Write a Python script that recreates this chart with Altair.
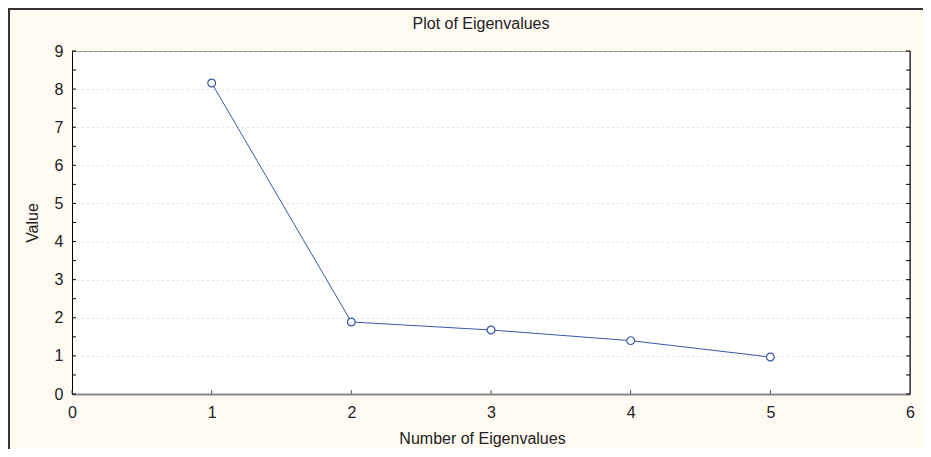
import altair as alt
import pandas as pd

# Data
eig_num = [1, 2, 3, 4, 5]
eig_val = [8.16, 1.89, 1.68, 1.40, 0.97]
y_ticks_minor = [i * 0.5 for i in range(0, 19)]
x_ticks = [0, 1, 2, 3, 4, 5, 6]
y_label_values = [0, 1, 2, 3, 4, 5, 6, 7, 8, 9]
title_text = ["Plot of Eigenvalues"]

FONT = "Liberation Sans"
W, H = 838, 343
BLUE = "#3b55a8"

df = pd.DataFrame({"n": eig_num, "v": eig_val})
yt = pd.DataFrame({"t": y_ticks_minor})
xt = pd.DataFrame({"t": x_ticks})

xscale = alt.Scale(domain=[0, 6], nice=False, zero=False)
yscale = alt.Scale(domain=[0, 9], nice=False, zero=False)

x_axis = alt.Axis(
    title="Number of Eigenvalues",
    values=x_ticks,
    format="d",
    grid=False,
    ticks=False,
    labelFlush=False,
    labelOverlap=False,
    domainColor="#888888",
    domainWidth=2,
    labelPadding=10,
    labelFontSize=16,
    labelColor="#222222",
    labelFont=FONT,
    titleFont=FONT,
    titleFontSize=16,
    titleFontWeight="normal",
    titleColor="#222222",
    titleX=410,
    titleY=44,
    titleBaseline="middle",
)
y_axis = alt.Axis(
    title="Value",
    values=y_label_values,
    format="d",
    grid=True,
    gridColor="#c4c4c4",
    gridDash=[1, 4],
    ticks=False,
    labelFlush=False,
    labelOverlap=False,
    domainColor="#000000",
    domainWidth=1,
    labelPadding=9,
    labelFontSize=16,
    labelColor="#222222",
    labelFont=FONT,
    titleFont=FONT,
    titleFontSize=16,
    titleFontWeight="normal",
    titleColor="#222222",
    titlePadding=14,
)

line = alt.Chart(df).mark_line(color=BLUE, strokeWidth=1).encode(
    x=alt.X("n:Q", scale=xscale, axis=x_axis),
    y=alt.Y("v:Q", scale=yscale, axis=y_axis),
)
pts = alt.Chart(df).mark_point(
    shape="circle", filled=False, fill="white", fillOpacity=1,
    color=BLUE, stroke=BLUE, strokeWidth=1.2, size=60, opacity=1
).encode(
    x=alt.X("n:Q", scale=xscale, axis=x_axis),
    y=alt.Y("v:Q", scale=yscale, axis=y_axis),
)

# right border (black) at x = 6
right_rule = alt.Chart(pd.DataFrame({"x": [6]})).mark_rule(
    color="#000000", strokeWidth=1
).encode(x=alt.X("x:Q", scale=xscale, axis=x_axis), y=alt.value(0), y2=alt.value(H))

# inward ticks on left and right axes
left_ticks = alt.Chart(yt).mark_rule(color="#000000", strokeWidth=1).encode(
    y=alt.Y("t:Q", scale=yscale, axis=y_axis), x=alt.value(0), x2=alt.value(4)
)
right_ticks = alt.Chart(yt).mark_rule(color="#000000", strokeWidth=1).encode(
    y=alt.Y("t:Q", scale=yscale, axis=y_axis), x=alt.value(W - 4), x2=alt.value(W)
)
bottom_ticks = alt.Chart(xt).mark_rule(color="#555555", strokeWidth=1).encode(
    x=alt.X("t:Q", scale=xscale, axis=x_axis), y=alt.value(H - 4), y2=alt.value(H)
)

# chart title as a text mark
title = alt.Chart(pd.DataFrame({"t": title_text})).mark_text(
    font=FONT, fontSize=16, color="#222222", align="center", baseline="alphabetic"
).encode(text="t:N", x=alt.value(409), y=alt.value(-22))

# outer frame (left and top edges)
frame_left = alt.Chart(pd.DataFrame({"a": [0]})).mark_rule(color="#333333", strokeWidth=2).encode(
    x=alt.value(-63), y=alt.value(-43), y2=alt.value(H + 60)
)
frame_top = alt.Chart(pd.DataFrame({"a": [0]})).mark_rule(color="#333333", strokeWidth=2).encode(
    y=alt.value(-42), x=alt.value(-64), x2=alt.value(W + 20)
)

chart = alt.layer(
    line, pts, right_rule, left_ticks, right_ticks, bottom_ticks, title, frame_left, frame_top
).properties(
    width=W,
    height=H,
    autosize=alt.AutoSizeParams(type="none"),
    padding={"left": 64, "top": 43, "right": 13, "bottom": 55},
    background="#fffaf2",
).configure_view(
    stroke="#888888", strokeWidth=1, fill="white"
)

chart.save("out.html", embed_options={"renderer": "svg", "actions": False})
